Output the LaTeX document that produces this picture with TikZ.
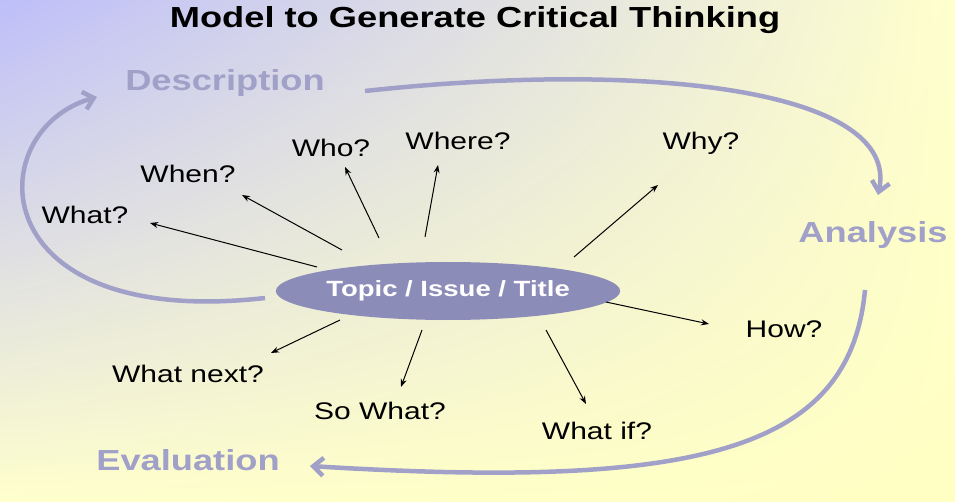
\documentclass[tikz,border=0pt]{standalone}
\usepackage{fontspec}
\usepackage{graphicx}
\setmainfont{Liberation Sans}
\usetikzlibrary{arrows.meta,shapes.geometric,shadings}
\definecolor{big}{HTML}{A0A0C8}
\definecolor{ell}{HTML}{8C8CB8}
\definecolor{bgA}{RGB}{190,190,250}
\definecolor{bgB}{RGB}{255,255,205}
\definecolor{bgC}{RGB}{255,255,195}
\newcommand{\sxx}[1]{\scalebox{1.25}[1]{#1}}
\begin{document}
\begin{tikzpicture}[x=1pt,y=-1pt,
 q/.style={font=\fontsize{24}{28}\selectfont},
 st/.style={font=\fontsize{29}{32}\selectfont\bfseries,text=big},
 sp/.style={-{Stealth[length=8pt,width=6pt]},line width=1pt},
 bg/.style={line width=4.5pt,big,-{Straight Barb[length=10pt,width=18pt]}}]
\useasboundingbox (0,0) rectangle (955,502);
\shade[upper left=bgA,lower left=bgB,upper right=bgB,lower right=bgC] (0,0) rectangle (955,502);
\node (title) at (475,20) {\fontsize{29}{32}\selectfont\bfseries\sxx{Model to Generate Critical Thinking}};
\node[st] (desc) at (225,83) {\sxx{Description}};
\node[st] (ana) at (873,235) {\sxx{Analysis}};
\node[st] (eva) at (188,460) {\sxx{Evaluation}};
\node[ellipse,fill=ell,minimum width=318pt,minimum height=58pt,inner sep=0,text=white,font=\fontsize{22}{26}\selectfont\bfseries] (t) at (448,291) {\sxx{Topic / Issue / Title}};
\node[q] (what) at (85,215) {\sxx{What?}};
\node[q] (when) at (188,174) {\sxx{When?}};
\node[q] (who) at (331,148) {\sxx{Who?}};
\node[q] (where) at (458,141) {\sxx{Where?}};
\node[q] (why) at (701,143) {\sxx{Why?}};
\node[q] (how) at (784,329) {\sxx{How?}};
\node[q] (whatif) at (597,431) {\sxx{What if?}};
\node[q] (sowhat) at (380,411) {\sxx{So What?}};
\node[q] (next) at (188,374) {\sxx{What next?}};
\coordinate (a1) at (317,267); \coordinate (b1) at (150,223);
\coordinate (a2) at (342,250); \coordinate (b2) at (242,195);
\coordinate (a3) at (379,238); \coordinate (b3) at (345,167);
\coordinate (a4) at (425,237); \coordinate (b4) at (438,165);
\coordinate (a5) at (574,257); \coordinate (b5) at (658,185);
\coordinate (a6) at (606,302); \coordinate (b6) at (709,324);
\coordinate (a7) at (546,330); \coordinate (b7) at (586,404);
\coordinate (a8) at (422,330); \coordinate (b8) at (401,387);
\coordinate (a9) at (340,320); \coordinate (b9) at (271,353);
\foreach \i in {1,...,9} \draw[sp] (a\i) -- (b\i);
\coordinate (d0) at (365,91); \coordinate (d1) at (878,195);
\draw[bg] (d0) .. controls (650,60) and (900,90) .. (d1);
\coordinate (l0) at (265,298); \coordinate (l1) at (97,97);
\draw[bg] (l0) .. controls (-20,330) and (-20,130) .. (l1);
\coordinate (e0) at (865,290); \coordinate (e1) at (310,466);
\draw[bg] (e0) .. controls (850,450) and (700,490) .. (e1);
\end{tikzpicture}
\end{document}
